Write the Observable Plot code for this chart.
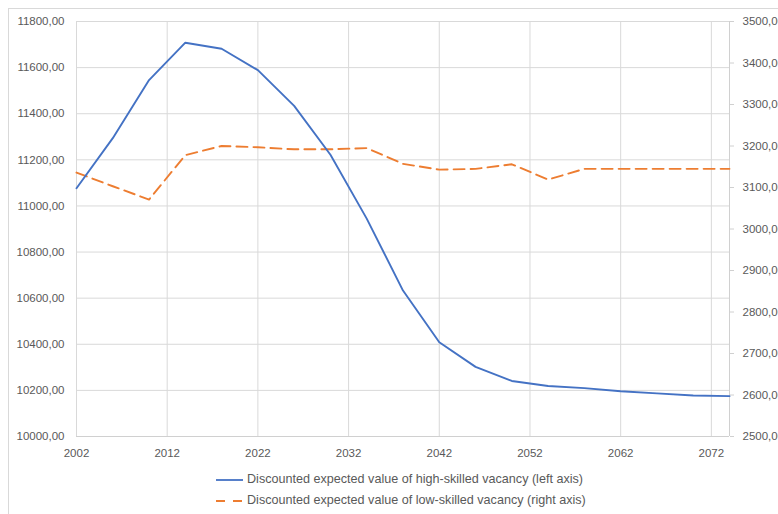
<!DOCTYPE html>
<html>
<head>
<meta charset="utf-8">
<script src="https://cdn.jsdelivr.net/npm/d3@7"></script>
<script src="https://cdn.jsdelivr.net/npm/@observablehq/plot@0.6"></script>
<style>
  html, body { margin: 0; padding: 0; background: #fff; overflow: hidden; }
  #wrap { position: relative; width: 778px; height: 514px; }
  #frame { position: absolute; left: 8px; top: 8px; width: 800px; height: 520px; border: 1px solid #d9d9d9; box-sizing: border-box; }
  #chart { position: absolute; left: 0; top: 0; }
  .legend { position: absolute; left: 216px; font-family: "Liberation Sans", Arial, sans-serif; font-size: 12.6px; color: #595959; }
  .legend div { position: relative; height: 21px; line-height: 21px; white-space: nowrap; }
  .legend svg { vertical-align: middle; margin-right: 4px; }
</style>
</head>
<body>
<div id="wrap">
  <div id="frame"></div>
  <div id="chart"></div>
  <div class="legend" style="top:469px">
    <div><svg width="27" height="4"><line x1="0" y1="2" x2="27" y2="2" stroke="#4472C4" stroke-width="1.8"/></svg>Discounted expected value of high-skilled vacancy (left axis)</div>
    <div><svg width="27" height="4"><line x1="0" y1="2" x2="27" y2="2" stroke="#ED7D31" stroke-width="1.8" stroke-dasharray="9,8"/></svg>Discounted expected value of low-skilled vacancy (right axis)</div>
  </div>
</div>
<script>
const years = [2002, 2006, 2010, 2014, 2018, 2022, 2026, 2030, 2034, 2038, 2042, 2046, 2050, 2054, 2058, 2062, 2066, 2070, 2074];
const highSkilled = [11077, 11294, 11546, 11708, 11682, 11589, 11434, 11222, 10945, 10633, 10409, 10302, 10241, 10219, 10210, 10196, 10187, 10178, 10175];
const lowSkilled = [3136, 3103, 3071, 3178, 3200, 3197, 3192, 3192, 3195, 3157, 3143, 3145, 3156, 3119, 3145, 3145, 3145, 3145, 3145];
const xTicks = [2002, 2012, 2022, 2032, 2042, 2052, 2062, 2072];
const leftTicks = [10000, 10200, 10400, 10600, 10800, 11000, 11200, 11400, 11600, 11800];
const rightTicks = [2500, 2600, 2700, 2800, 2900, 3000, 3100, 3200, 3300, 3400, 3500];

// right axis [2500, 3500] maps onto left axis [10000, 11800]
const leftDomain = [10000, 11800];
const rightDomain = [2500, 3500];
const toLeft = d3.scaleLinear().domain(rightDomain).range(leftDomain);

const fmt = d => d.toFixed(2).replace(".", ",");

const high = years.map((y, i) => ({year: y, value: highSkilled[i]}));
const low = years.map((y, i) => ({year: y, value: toLeft(lowSkilled[i])}));

const chart = Plot.plot({
  width: 778,
  height: 465,
  marginLeft: 76,
  marginRight: 49,
  marginTop: 21,
  marginBottom: 29,
  style: {fontFamily: "'Liberation Sans', Arial, sans-serif", fontSize: "11.5px", color: "#595959", background: "transparent", overflow: "visible"},
  x: {domain: [2002, 2074]},
  y: {domain: leftDomain},
  marks: [
    Plot.gridY(leftTicks, {stroke: "#d9d9d9", strokeOpacity: 1, strokeWidth: 1}),
    Plot.gridX(xTicks, {stroke: "#d9d9d9", strokeOpacity: 1, strokeWidth: 1}),
    Plot.ruleY([10000], {stroke: "#d0d0d0", strokeWidth: 1}),
    Plot.ruleX([2074], {stroke: "#d0d0d0", strokeWidth: 1}),
    Plot.axisX(xTicks, {tickSize: 0, tickPadding: 12, tickFormat: d => String(d), label: null, fill: "#595959"}),
    Plot.axisY(leftTicks, {anchor: "left", tickSize: 0, tickPadding: 12, tickFormat: fmt, label: null, fill: "#595959"}),
    Plot.axisY(rightTicks.map(t => toLeft(t)), {anchor: "right", tickSize: 4, tickPadding: 9, stroke: "#d0d0d0", tickFormat: d => fmt(toLeft.invert(d)), label: null, fill: "#595959", textAnchor: "start"}),
    Plot.line(low, {x: "year", y: "value", stroke: "#ED7D31", strokeWidth: 1.9, strokeDasharray: "11,6"}),
    Plot.line(high, {x: "year", y: "value", stroke: "#4472C4", strokeWidth: 1.9})
  ]
});
document.getElementById("chart").appendChild(chart);
</script>
</body>
</html>
